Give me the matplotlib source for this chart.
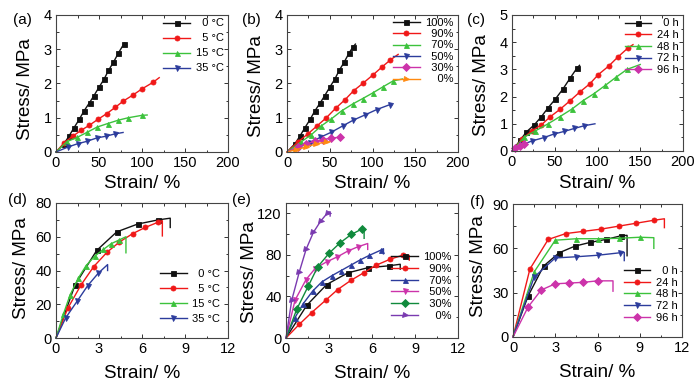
import matplotlib
matplotlib.use("Agg")
import matplotlib.pyplot as plt
from matplotlib.ticker import MultipleLocator, AutoMinorLocator

plt.rcParams['font.family'] = ['Liberation Sans', 'DejaVu Sans']

FS = "\u2007"  # figure space for right-aligned legend labels

# ---------------- (a) temperature, hydrogel ----------------
a_labels = ["0 °C", "5 °C", "15 °C", "35 °C"]
a0_x = [0, 9.3, 15, 21, 27, 32.6, 39, 44, 50, 56, 61, 66.8, 72.6, 79, 80]
a0_y = [0, 0.24, 0.46, 0.71, 0.95, 1.2, 1.44, 1.64, 1.89, 2.13, 2.38, 2.62, 2.89, 3.16, 3.18]
a5_x = [0, 9.5, 19.4, 29, 38.8, 48.5, 59, 68.7, 78.4, 89.3, 99.8, 112.6, 120]
a5_y = [0, 0.27, 0.46, 0.63, 0.78, 0.95, 1.12, 1.3, 1.49, 1.66, 1.84, 2.03, 2.17]
a15_x = [0, 12.5, 24.9, 36.5, 48, 60, 72.6, 84, 99.8, 106]
a15_y = [0, 0.3, 0.43, 0.58, 0.73, 0.83, 0.93, 1.0, 1.07, 1.08]
a35_x = [0, 14.4, 25, 35.7, 47.4, 58, 68.7, 78]
a35_y = [0, 0.15, 0.24, 0.31, 0.41, 0.46, 0.53, 0.57]

# ---------------- (b) humidity ----------------
b_labels = ["100%", "90%", "70%", "50%", "30%", "0%"]
b100_x = [0, 9.3, 15, 21, 27, 32.6, 39, 44, 50, 56, 61, 66.8, 72.6, 77, 80]
b100_y = [0, 0.24, 0.46, 0.71, 0.95, 1.2, 1.44, 1.64, 1.89, 2.13, 2.38, 2.62, 2.89, 3.06, 3.15]
b90_x = [0, 13, 24, 35, 46, 57, 68, 78, 89, 101, 111, 121, 130]
b90_y = [0, 0.3, 0.52, 0.76, 1.0, 1.28, 1.53, 1.79, 2.01, 2.26, 2.48, 2.69, 2.85]
b70_x = [0, 16.8, 28.6, 40, 52, 63.8, 76.7, 88.5, 100, 112.7, 124.5, 135]
b70_y = [0, 0.3, 0.51, 0.76, 0.97, 1.2, 1.4, 1.56, 1.72, 1.91, 2.08, 2.13]
b50_x = [0, 14, 26.6, 39, 52, 65, 77.5, 91, 105, 120, 122]
b50_y = [0, 0.15, 0.27, 0.43, 0.58, 0.76, 0.93, 1.08, 1.24, 1.38, 1.4]
b30_x = [0, 13, 22.7, 32.5, 42, 52, 62, 63]
b30_y = [0, 0.15, 0.24, 0.31, 0.36, 0.41, 0.43, 0.43]
b0_x = [0, 11, 22.7, 34.4, 46, 50]
b0_y = [0, 0.07, 0.15, 0.24, 0.29, 0.3]

# ---------------- (c) soaking time ----------------
c_labels = ["0 h", "24 h", "48 h", "72 h", "96 h"]
c0_x = [0, 9.7, 16.8, 26, 34.3, 42, 50.7, 59.6, 68, 76, 79]
c0_y = [0, 0.4, 0.7, 0.96, 1.26, 1.58, 1.91, 2.28, 2.68, 3.05, 3.15]
c24_x = [0, 12, 23.4, 34.3, 44.8, 56.5, 68, 79, 91, 101, 113, 124, 135.7, 141.5]
c24_y = [0, 0.45, 0.74, 0.96, 1.26, 1.54, 1.85, 2.16, 2.47, 2.81, 3.12, 3.46, 3.79, 3.91]
c48_x = [0, 14, 27.3, 41.7, 55.8, 70, 83, 95.5, 109, 122, 134.5, 150]
c48_y = [0, 0.5, 0.74, 0.99, 1.26, 1.54, 1.85, 2.1, 2.41, 2.72, 3.0, 3.18]
c72_x = [0, 11, 23.4, 37, 48.7, 61, 73, 84.6, 97]
c72_y = [0, 0.22, 0.37, 0.49, 0.62, 0.72, 0.83, 0.93, 1.0]
c96_x = [0, 4, 9, 13.6, 17.5]
c96_y = [0, 0.12, 0.19, 0.25, 0.3]

# ---------------- (d) temperature, dried film (end point + drop) ----------------
d_labels = ["0 °C", "5 °C", "15 °C", "35 °C"]
d0_x = [0, 1.33, 2.84, 4.24, 5.69, 7.13, 7.97, 7.97]
d0_y = [0, 31.5, 51.9, 62.9, 67.5, 70.0, 71.0, 65.5]
d5_x = [0, 0.82, 1.75, 2.63, 3.57, 4.43, 5.36, 6.22, 7.09, 7.42, 7.42]
d5_y = [0, 17.6, 31.5, 42.3, 50.9, 56.9, 61.9, 65.5, 68.5, 69.5, 60.5]
d15_x = [0, 0.51, 0.98, 1.56, 2.1, 2.73, 3.31, 3.85, 4.41, 4.88, 4.88]
d15_y = [0, 14, 25.5, 35.5, 42.9, 48.7, 52.5, 55.9, 58.1, 60, 50.5]
d35_x = [0, 0.68, 1.49, 2.21, 2.96, 3.6, 3.6]
d35_y = [0, 12, 22, 31, 38.5, 43.5, 40]

# ---------------- (e) humidity, dried film ----------------
e_labels = ["100%", "90%", "70%", "50%", "30%", "0%"]
e100_x = [0, 1.45, 2.84, 4.31, 5.69, 7.16, 7.97, 7.97]
e100_y = [0, 31.5, 51.5, 62.7, 67.6, 69.5, 71.0, 66.3]
e90_x = [0, 0.93, 1.79, 2.77, 3.61, 4.55, 5.41, 6.29, 7.27, 8.16, 8.6, 8.6]
e90_y = [0, 13.2, 24.5, 36.4, 46.7, 55.7, 62.7, 70.1, 75.9, 79.8, 79.5, 75]
e70_x = [0, 0.6, 1.2, 1.85, 2.5, 3.2, 3.85, 4.5, 5.15, 5.8, 6.6, 6.8, 6.8]
e70_y = [0, 19, 33, 45, 54, 60, 65, 70, 75, 79.5, 84.5, 86, 81]
e50_x = [0, 0.63, 1.4, 2.03, 2.84, 3.59, 4.31, 5.01, 5.7, 5.7]
e50_y = [0, 36.4, 56.3, 66.9, 73.4, 78.2, 83.7, 87.8, 91, 85.3]
e30_x = [0, 0.75, 1.56, 2.21, 3.03, 3.78, 4.55, 5.29, 5.45, 5.45]
e30_y = [0, 27.7, 50.2, 68.5, 82, 91.7, 99.7, 104.9, 104, 96]
e0_x = [0, 0.4, 0.93, 1.4, 1.91, 2.42, 2.91, 3.08, 3.08]
e0_y = [0, 36.4, 63.7, 85.3, 101.7, 112.6, 120.7, 121.6, 117.5]

# ---------------- (f) soaking time, dried film ----------------
f_labels = ["0 h", "24 h", "48 h", "72 h", "96 h"]
f0_x = [0, 1.07, 2.17, 3.28, 4.4, 5.47, 6.58, 7.68, 8.1, 8.1]
f0_y = [0, 27.7, 48, 57, 61.5, 64, 66, 68.5, 68.8, 55]
f24_x = [0, 1.2, 2.5, 3.75, 5.0, 6.25, 7.5, 8.75, 10.0, 10.75, 10.75]
f24_y = [0, 46, 66, 70, 71.5, 73, 75, 77, 79, 80, 74]
f48_x = [0, 1.5, 3.0, 4.5, 6.0, 7.5, 9.0, 10.0, 10.0]
f48_y = [0, 44, 65.5, 66.5, 66.5, 66.8, 67.5, 67.2, 60]
f72_x = [0, 1.5, 3.0, 4.5, 6.0, 7.6, 7.9, 7.9]
f72_y = [0, 40.5, 53.5, 54.3, 55.3, 57, 57.3, 51.7]
f96_x = [0, 1.07, 2.0, 3.0, 4.0, 5.0, 6.0, 7.1, 7.1]
f96_y = [0, 20.3, 31.8, 36, 36.5, 37, 38, 38, 31]

BLACK = "#111111"
RED = "#f01818"
GREEN = "#3cc23c"
BLUE = "#2c3c9c"
MAG = "#cc33aa"
ORANGE = "#ff8a10"
DGREEN = "#108a3c"
PURPLE = "#7a3ab0"

W, H = 700, 387
fig = plt.figure(figsize=(7.0, 3.87), dpi=100)


def make_ax(l, r, t, b):
    return fig.add_axes([l / W, 1 - b / H, (r - l) / W, (b - t) / H])


def style(ax, xmax, xstep, ymax, ystep, ytop):
    ax.set_xlim(0, xmax)
    ax.set_ylim(0, ytop)
    ax.xaxis.set_major_locator(MultipleLocator(xstep))
    ax.yaxis.set_major_locator(MultipleLocator(ystep))
    ax.xaxis.set_minor_locator(AutoMinorLocator(2))
    ax.yaxis.set_minor_locator(AutoMinorLocator(2))
    ax.tick_params(which='both', direction='in', top=True, right=True,
                   labelsize=10.5, color='#333333', width=0.7, pad=3)
    ax.tick_params(which='major', length=3.2)
    ax.tick_params(which='minor', length=1.8)
    for s in ax.spines.values():
        s.set_color('#444444')
        s.set_linewidth(0.8)


def curve(ax, x, y, color, marker, label, drop):
    n = len(x)
    last = n - 2 if drop else n - 1
    ax.plot(x, y, color=color, lw=1.0, marker=marker, ms=3.6,
            markevery=list(range(1, last)), label=label,
            markeredgewidth=0.6, clip_on=False)


def legend(ax, bx, by, spacing):
    ax.legend(loc='upper right', bbox_to_anchor=(bx, by), frameon=False,
              fontsize=8, handlelength=2.4, handletextpad=0.5,
              borderpad=0, borderaxespad=0, labelspacing=spacing, numpoints=1)


def labels(ax, ylx, yly, xly):
    ax.set_ylabel("Stress/ MPa", fontsize=13.5)
    ax.set_xlabel("Strain/ %", fontsize=13.5)
    ax.yaxis.set_label_coords(ylx, yly)
    ax.xaxis.set_label_coords(0.5, xly)


def pad(lbls, width):
    return [FS * (width - len(s.split(' ')[0].rstrip('%'))) + s for s in lbls]


# (a)
ax = make_ax(56, 228, 15, 152)
style(ax, 200, 50, 4, 1, 4)
la = pad(a_labels, 2)
curve(ax, a0_x, a0_y, BLACK, 's', la[0], False)
curve(ax, a5_x, a5_y, RED, 'o', la[1], False)
curve(ax, a15_x, a15_y, GREEN, '^', la[2], False)
curve(ax, a35_x, a35_y, BLUE, 'v', la[3], False)
legend(ax, 0.975, 0.975, 0.45)
labels(ax, -0.125, 0.46, -0.17)
fig.text(13 / W, 1 - 20 / H, "(a)", fontsize=11, va='center', ha='left')

# (b)
ax = make_ax(287, 458, 15, 152)
style(ax, 200, 50, 4, 1, 4)
lb = pad(b_labels, 3)
curve(ax, b100_x, b100_y, BLACK, 's', lb[0], False)
curve(ax, b90_x, b90_y, RED, 'o', lb[1], False)
curve(ax, b70_x, b70_y, GREEN, '^', lb[2], False)
curve(ax, b50_x, b50_y, BLUE, 'v', lb[3], False)
curve(ax, b30_x, b30_y, MAG, 'D', lb[4], False)
curve(ax, b0_x, b0_y, ORANGE, '>', lb[5], False)
legend(ax, 0.975, 0.98, 0.12)
labels(ax, -0.13, 0.48, -0.17)
fig.text(242 / W, 1 - 20 / H, "(b)", fontsize=11, va='center', ha='left')

# (c)
ax = make_ax(512, 683, 15, 151)
style(ax, 200, 50, 5, 1, 5)
lc = pad(c_labels, 2)
curve(ax, c0_x, c0_y, BLACK, 's', lc[0], False)
curve(ax, c24_x, c24_y, RED, 'o', lc[1], False)
curve(ax, c48_x, c48_y, GREEN, '^', lc[2], False)
curve(ax, c72_x, c72_y, BLUE, 'v', lc[3], False)
curve(ax, c96_x, c96_y, MAG, 'D', lc[4], False)
legend(ax, 0.975, 0.975, 0.15)
labels(ax, -0.13, 0.485, -0.175)
fig.text(467 / W, 1 - 20 / H, "(c)", fontsize=11, va='center', ha='left')

# (d)
ax = make_ax(56, 228, 203, 338)
style(ax, 12, 3, 80, 20, 80)
ld = pad(d_labels, 2)
curve(ax, d0_x, d0_y, BLACK, 's', ld[0], True)
curve(ax, d5_x, d5_y, RED, 'o', ld[1], True)
curve(ax, d15_x, d15_y, GREEN, '^', ld[2], True)
curve(ax, d35_x, d35_y, BLUE, 'v', ld[3], True)
legend(ax, 0.955, 0.51, 0.45)
labels(ax, -0.15, 0.52, -0.2)
fig.text(8 / W, 1 - 200 / H, "(d)", fontsize=11, va='center', ha='left')

# (e)
ax = make_ax(286, 458, 203, 338)
style(ax, 12, 3, 120, 40, 130)
le = pad(e_labels, 3)
curve(ax, e100_x, e100_y, BLACK, 's', le[0], True)
curve(ax, e90_x, e90_y, RED, 'o', le[1], True)
curve(ax, e70_x, e70_y, BLUE, '^', le[2], True)
curve(ax, e50_x, e50_y, MAG, 'v', le[3], True)
curve(ax, e30_x, e30_y, DGREEN, 'D', le[4], True)
curve(ax, e0_x, e0_y, PURPLE, '>', le[5], True)
legend(ax, 0.965, 0.635, 0.15)
labels(ax, -0.16, 0.49, -0.2)
fig.text(232 / W, 1 - 200 / H, "(e)", fontsize=11, va='center', ha='left')

# (f)
ax = make_ax(513, 682, 204, 337)
style(ax, 12, 3, 90, 30, 90)
lf = pad(f_labels, 2)
curve(ax, f0_x, f0_y, BLACK, 's', lf[0], True)
curve(ax, f24_x, f24_y, RED, 'o', lf[1], True)
curve(ax, f48_x, f48_y, GREEN, '^', lf[2], True)
curve(ax, f72_x, f72_y, BLUE, 'v', lf[3], True)
curve(ax, f96_x, f96_y, MAG, 'D', lf[4], True)
legend(ax, 0.975, 0.535, 0.15)
labels(ax, -0.155, 0.53, -0.2)
fig.text(470 / W, 1 - 202 / H, "(f)", fontsize=11, va='center', ha='left')

fig.savefig("out.png", dpi=100)
